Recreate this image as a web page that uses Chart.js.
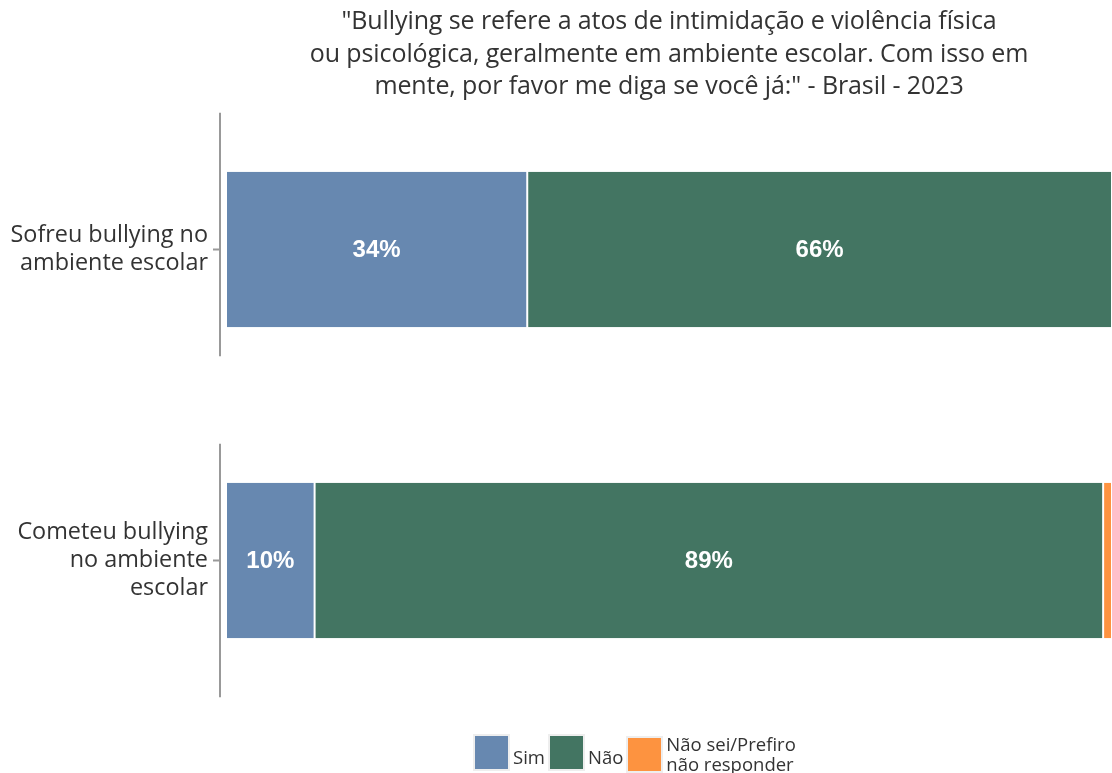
<!DOCTYPE html>
<html>
<head>
<meta charset="utf-8">
<script src="https://cdn.jsdelivr.net/npm/chart.js@4"></script>
<style>
  html, body { margin: 0; padding: 0; background: #fff; }
  #wrap { position: relative; width: 1112px; height: 773px; font-family: "Open Sans", sans-serif; color: #333; }
  #title { position: absolute; left: 226px; width: 886px; top: 3px; text-align: center; font-size: 25px; line-height: 32.5px; letter-spacing: -0.1px; }
  #legend { position: absolute; top: 734px; left: 473px; display: flex; align-items: flex-start; font-size: 18.5px; }
  .item { display: flex; align-items: center; margin-right: 3px; }
  .box { width: 37px; height: 37px; border: 2px solid #eee; box-sizing: border-box; margin-right: 3px; }
  .lbl { line-height: 20px; }
</style>
</head>
<body>
<div id="wrap">
  <canvas id="chart" width="1112" height="773"></canvas>
  <div id="title">"Bullying se refere a atos de intimidação e violência física<br>ou psicológica, geralmente em ambiente escolar. Com isso em<br>mente, por favor me diga se você já:" - Brasil - 2023</div>
  <div id="legend"></div>
</div>
<script>
// ── Datos ──────────────────────────────────────────
const categorias = [
    ['Sofreu bullying no', 'ambiente escolar'],
    ['Cometeu bullying', 'no ambiente', 'escolar']
];
const simValores   = [34, 10];
const naoValores   = [66, 89];
const nsValores    = [0, 1];
const serieNombres = ['Sim', 'Não', 'Não sei/Prefiro\nnão responder'];
const serieColores = ['#6788b0', '#437562', '#fd9340'];

// ── Leyenda HTML ───────────────────────────────────
const legendEl = document.getElementById('legend');
serieNombres.forEach((name, i) => {
    const item = document.createElement('div');
    item.className = 'item';
    const box = document.createElement('div');
    box.className = 'box';
    box.style.background = serieColores[i];
    const lbl = document.createElement('div');
    lbl.className = 'lbl';
    lbl.innerHTML = name.split('\n').join('<br>');
    if (name.indexOf('\n') < 0) lbl.style.paddingTop = '8px';
    item.appendChild(box);
    item.appendChild(lbl);
    legendEl.appendChild(item);
});

// ── Plugin: etiquetas + ejes segmentados ──────────
const extrasPlugin = {
    id: 'extras',
    afterDatasetsDraw(chart) {
        const ctx = chart.ctx;
        const yScale = chart.scales.y;
        const left = chart.chartArea.left;
        const band = yScale.getPixelForValue(1) - yScale.getPixelForValue(0);

        // eje vertical por panel
        ctx.save();
        ctx.strokeStyle = '#999';
        ctx.lineWidth = 2;
        categorias.forEach((_, i) => {
            const c = yScale.getPixelForValue(i);
            ctx.beginPath();
            ctx.moveTo(left - 6, c - band * 0.44 + (i ? 20 : 0));
            ctx.lineTo(left - 6, c + band * 0.44 - (i ? 0 : 30));
            ctx.stroke();
            ctx.beginPath();
            ctx.moveTo(left - 13, c);
            ctx.lineTo(left - 6, c);
            ctx.stroke();
        });

        // etiquetas de valor
        ctx.fillStyle = '#fff';
        ctx.font = 'bold 24px "Liberation Sans", Arial, sans-serif';
        ctx.textAlign = 'center';
        ctx.textBaseline = 'middle';
        chart.data.datasets.forEach((ds, di) => {
            chart.getDatasetMeta(di).data.forEach((bar, i) => {
                const v = ds.data[i];
                if (v < 5) return;
                const p = bar.getProps(['x', 'y', 'base'], true);
                ctx.fillText(v + '%', (p.x + p.base) / 2, p.y + 1);
            });
        });
        ctx.restore();
    }
};

new Chart(document.getElementById('chart'), {
    type: 'bar',
    data: {
        labels: categorias,
        datasets: [
            { label: 'Sim', data: simValores, backgroundColor: serieColores[0] },
            { label: 'Não', data: naoValores, backgroundColor: serieColores[1] },
            { label: 'Não sei/Prefiro não responder', data: nsValores, backgroundColor: serieColores[2] }
        ]
    },
    options: {
        indexAxis: 'y',
        responsive: false,
        animation: false,
        layout: { padding: { top: 94, bottom: 57, left: 0, right: 0 } },
        datasets: {
            bar: {
                categoryPercentage: 0.5,
                barPercentage: 1,
                borderColor: '#fff',
                borderWidth: { left: 1, right: 1, top: 0, bottom: 0 },
                borderSkipped: false
            }
        },
        plugins: {
            legend: { display: false },
            tooltip: { enabled: false },
            title: { display: false }
        },
        scales: {
            x: {
                stacked: true,
                min: 0,
                max: 100,
                display: false
            },
            y: {
                stacked: true,
                grid: { display: false },
                border: { display: false },
                afterFit: (s) => { s.width = 226; },
                ticks: {
                    padding: 10,
                    color: '#333',
                    font: { family: '"Open Sans", sans-serif', size: 23.4, lineHeight: 1.2 }
                }
            }
        }
    },
    plugins: [extrasPlugin]
});
</script>
</body>
</html>
